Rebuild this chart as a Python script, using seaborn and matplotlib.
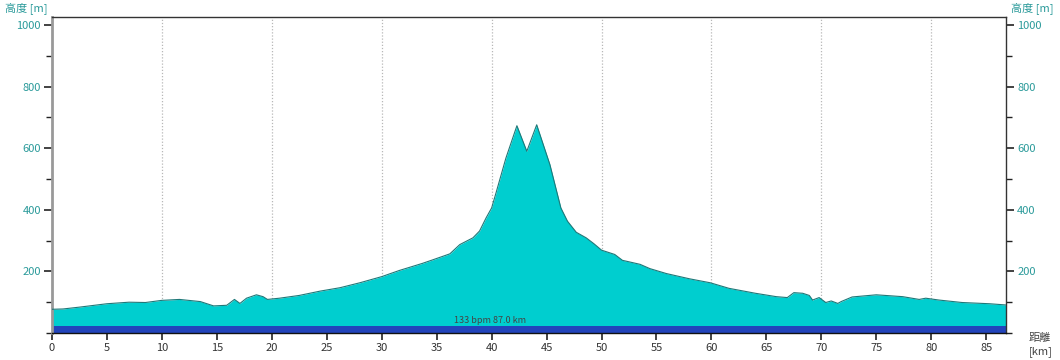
import numpy as np
import pandas as pd
import matplotlib
matplotlib.use("Agg")
import matplotlib.pyplot as plt
import seaborn as sns
from matplotlib.ticker import MultipleLocator

# elevation profile
km = [0, 1, 2.5, 5, 7, 8.5, 10, 11.6, 13.5, 14.7,
      15.3, 15.9, 16.6, 17.1, 17.7, 18.6, 19.2, 19.6, 20.7, 22.5,
      24.4, 26.2, 28, 30, 31.6, 33.7, 34.6, 36.2, 37.1, 38.3,
      38.9, 39.5, 40, 40.4, 41.3, 42.3, 43.2, 44.1, 45.3, 46.3,
      46.9, 47.7, 48.6, 49.3, 50, 51.2, 51.9, 53.5, 54.4, 55.9,
      58, 59.9, 61.6, 64, 65.9, 66.9, 67.5, 68.3, 68.9, 69.2,
      69.8, 70.4, 70.9, 71.5, 71.8, 72.8, 75, 77.4, 78.9, 79.5,
      80.7, 82.8, 85.3, 86.8]
elev = [77, 78, 84, 95, 100, 99, 106, 109, 102, 88,
        89, 90, 109, 96, 113, 124, 118, 109, 113, 122,
        136, 147, 163, 183, 203, 226, 237, 257, 287, 309,
        331, 374, 406, 455, 568, 673, 590, 676, 547, 406,
        363, 327, 309, 290, 269, 255, 236, 223, 209, 193,
        176, 163, 145, 129, 118, 115, 131, 129, 122, 107,
        115, 99, 104, 96, 102, 117, 124, 118, 109, 113,
        107, 99, 95, 91]
band_top = 23
summary = "133 bpm 87.0 km"
total_km = 86.8
x_ticks = list(range(0, 90, 5))
grid_x = list(range(10, 90, 10))
y_ticks = [200, 400, 600, 800, 1000]

df = pd.DataFrame({"km": km, "elev": elev})

sns.set_style("white")
plt.rcParams["font.family"] = ["Noto Sans CJK JP", "DejaVu Sans"]

teal = "#2a9a9a"
fig = plt.figure(figsize=(10.6, 3.6), dpi=100)
ax = fig.add_axes([52 / 1060, 1 - 333 / 360, (1006 - 52) / 1060, (333 - 17) / 360])

ax.fill_between(df["km"], band_top, df["elev"], color="#00cecf", lw=0, zorder=2)
sns.lineplot(data=df, x="km", y="elev", ax=ax, color="#1e7878", lw=0.8, zorder=3)
ax.fill_between([0, total_km], 0, band_top, color="#2244bb", lw=0, zorder=2)
ax.text(39.9, 26, summary, ha="center", va="bottom", fontsize=6.5, color="#444444", zorder=4)

for g in grid_x:
    ax.axvline(g, color="#b8b8b8", lw=0.9, ls=(0, (1, 1.5)), zorder=1)

ax.set_xlim(0, total_km)
ax.set_ylim(0, 1026)
ax.set_xticks(x_ticks)
ax.set_yticks(y_ticks)
ax.yaxis.set_minor_locator(MultipleLocator(100))
ax.set_xlabel("")
ax.set_ylabel("")

ax.tick_params(axis="x", direction="out", length=5, width=1.2, color="#222222",
               labelsize=8, labelcolor="#333333", pad=2, bottom=True)
ax.tick_params(axis="y", which="major", direction="out", length=6, width=1.2, color="#222222",
               labelsize=8, labelcolor=teal, pad=2, left=True, right=True,
               labelleft=True, labelright=True)
ax.tick_params(axis="y", which="minor", direction="out", length=4, width=1.0, color="#222222",
               left=True, right=True)

for side in ["top", "right", "bottom"]:
    ax.spines[side].set_color("#333333")
    ax.spines[side].set_linewidth(1.0)
ax.spines["left"].set_color("#999999")
ax.spines["left"].set_linewidth(2.0)
ax.spines["bottom"].set_color("#111111")
ax.spines["bottom"].set_zorder(5)

fig.text(26 / 1060, 1 - 8 / 360, "高度 [m]", ha="center", va="center", fontsize=8, color=teal)
fig.text(1032 / 1060, 1 - 8 / 360, "高度 [m]", ha="center", va="center", fontsize=8, color=teal)
fig.text(1040 / 1060, 1 - 338 / 360, "距離", ha="center", va="center", fontsize=8, color="#444444")
fig.text(1041 / 1060, 1 - 352 / 360, "[km]", ha="center", va="center", fontsize=8, color="#444444")

fig.savefig("out.png", dpi=100)
